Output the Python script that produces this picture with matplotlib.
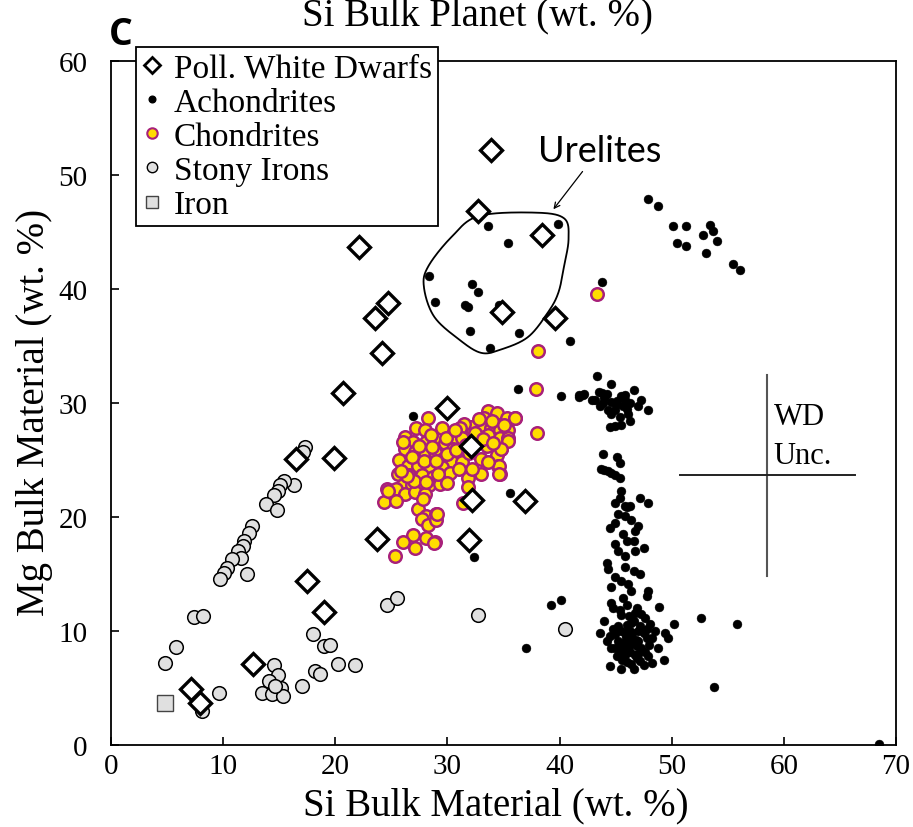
import numpy as np
import matplotlib
matplotlib.use("Agg")
import matplotlib.pyplot as plt
from matplotlib.lines import Line2D

plt.rcParams['font.family'] = ['Liberation Serif', 'DejaVu Serif']
plt.rcParams['mathtext.fontset'] = 'stix'

# Polluted white dwarfs (Si, Mg wt. %)
wd_si = [33.9, 32.7, 22.1, 38.4, 24.7, 23.5, 34.9, 39.6, 24.2, 20.7, 30.0, 32.1,
         16.5, 19.9, 32.2, 36.9, 23.7, 31.9, 17.5, 19.0, 12.7, 7.1, 7.9]
wd_mg = [52.2, 46.8, 43.7, 44.7, 38.8, 37.5, 38.0, 37.5, 34.4, 30.9, 29.6, 26.2,
         25.1, 25.2, 21.5, 21.4, 18.1, 18.0, 14.4, 11.7, 7.1, 4.9, 3.7]

# Achondrites
ach_si = [
    # urelites
    33.6, 39.9, 35.4, 28.4, 32.2, 32.7, 28.9, 31.6, 31.8, 34.6, 32.0, 36.4, 33.8, 43.8, 40.9,
    # upper right group
    47.9, 48.8, 50.1, 51.3, 53.4, 53.7, 54.0, 52.8, 50.5, 51.3, 53.1, 55.5, 56.1,
    # scattered
    36.3, 40.1, 41.7, 42.1, 26.9, 35.6, 32.4, 39.2, 40.1, 37.0, 52.6, 55.8, 53.8, 50.2, 68.5,
    # group near Mg 30
    43.3, 44.6, 41.7, 42.2, 43.5, 43.2, 44.0, 43.9, 44.6, 45.5, 45.8, 46.6, 47.3, 47.0, 47.9,
    43.6, 44.3, 44.9, 45.7, 46.3, 44.6, 45.4, 46.1, 46.3, 45.5, 44.9, 44.5, 45.8, 42.9, 44.2,
    45.1, 46.0, 45.0, 43.8,
    # column
    43.9, 45.1, 45.4, 43.7, 44.0, 44.6, 44.9, 45.4, 44.3, 45.5, 45.4, 44.9, 45.8, 46.3, 47.2,
    47.9, 46.0, 45.2, 45.8, 44.9, 44.5, 46.4, 47.0, 46.7, 45.7, 46.0, 46.6, 44.9, 45.2, 45.8,
    46.7, 47.5, 44.2, 44.3, 45.8, 46.6, 47.2, 44.9, 45.5, 46.1, 46.4, 44.6, 47.9, 47.8, 45.7,
    44.6, 44.8, 48.9, 45.5, 46.7, 47.6, 44.0, 45.2, 43.6, 44.2, 46.4, 48.1, 49.4, 49.7, 44.9,
    45.8, 47.0, 48.2, 44.6, 45.5, 46.3, 47.3, 48.8, 49.3, 45.1, 46.0, 46.9, 47.9, 44.5, 45.5,
    46.6, 47.5, 48.2, 47.0, 46.1, 45.2, 47.8, 46.7, 45.8, 44.9,
    # dense blob near Mg 9
    45.5, 46.0, 46.5, 47.2, 45.8, 46.3, 46.9, 47.5, 45.3, 46.6, 47.3, 46.2, 45.9, 46.8, 47.6,
    45.6, 46.4, 47.2, 44.8, 45.4, 46.0, 46.9, 48.5, 48.0, 44.5, 47.8, 46.5, 45.9, 47.0, 46.3,
]
ach_mg = [
    45.5, 45.7, 44.0, 41.1, 40.4, 39.7, 38.9, 38.6, 38.4, 38.6, 36.3, 36.1, 34.8, 40.6, 35.4,
    47.9, 47.3, 45.5, 45.5, 45.6, 45.1, 44.2, 44.7, 44.0, 43.8, 43.2, 42.2, 41.7,
    31.2, 30.6, 30.5, 30.7, 28.9, 22.1, 16.5, 12.3, 12.7, 8.5, 11.1, 10.6, 5.1, 10.6, 0.1,
    32.4, 31.7, 30.7, 30.8, 31.0, 30.3, 30.4, 30.0, 30.1, 30.6, 30.7, 31.1, 30.3, 29.7, 29.4,
    29.7, 29.4, 29.4, 29.7, 30.0, 29.0, 28.8, 29.0, 28.4, 28.1, 28.0, 27.9, 30.3, 30.3, 30.8,
    30.2, 29.5, 29.8, 30.9,
    25.5, 25.3, 24.7, 24.2, 24.1, 23.9, 23.7, 23.4, 24.0, 22.3, 21.7, 21.2, 21.0, 21.0, 21.7,
    21.2, 20.9, 20.3, 20.1, 19.5, 19.0, 19.7, 19.2, 18.8, 18.5, 17.9, 17.9, 17.6, 17.0, 16.6,
    17.0, 17.3, 16.0, 15.4, 15.6, 15.3, 15.0, 14.7, 14.4, 14.1, 13.5, 13.9, 13.5, 13.1, 12.9,
    12.5, 12.0, 12.1, 11.4, 11.6, 11.1, 10.9, 10.4, 9.8, 9.1, 10.7, 10.6, 9.8, 9.4, 9.7,
    9.8, 10.0, 9.4, 8.5, 8.2, 8.8, 8.5, 8.5, 7.5, 7.8, 7.3, 7.6, 7.8, 6.9, 6.7,
    6.7, 7.0, 7.2, 9.1, 9.4, 9.1, 9.4, 7.9, 7.9, 8.5,
    10.0, 10.5, 9.8, 10.4, 9.0, 8.2, 8.7, 9.8, 8.8, 10.9, 11.5, 11.3, 9.5, 9.2, 8.2,
    7.5, 7.1, 7.4, 10.2, 11.8, 12.3, 12.0, 10.0, 8.8, 9.6, 10.2, 9.3, 8.5, 8.0, 10.0,
]

# Chondrites
ch_si = [
    33.6, 34.4, 35.3, 36.0, 33.3, 33.0, 33.9, 34.7, 35.4, 32.1, 31.5, 31.1, 30.5, 31.3, 33.6,
    34.7, 35.4, 32.7, 33.5, 34.8, 34.4, 33.0, 34.5, 34.7, 33.0, 31.8, 31.8, 31.4,
    28.3, 27.2, 26.2, 26.9, 28.0, 28.1, 29.0, 29.8, 30.5, 26.2, 27.1, 28.0, 28.9, 29.6, 30.4,
    31.3, 25.7, 26.5, 27.4, 28.4, 29.5, 30.2, 25.6, 26.6, 27.7, 28.7, 26.0, 26.8, 27.5, 28.4,
    29.3, 24.6, 25.4, 26.2, 27.1, 28.0, 24.3, 25.4, 27.4, 28.1, 29.0, 27.7, 28.3, 29.0, 26.9,
    28.1, 28.9, 26.0, 27.1, 25.3,
    43.3, 38.1, 37.9, 38.0, 34.6, 34.6, 36.0, 35.4, 34.8, 29.1, 28.8, 24.7,
    27.5, 28.5, 29.5, 30.0, 29.2, 27.9, 26.8, 27.0, 28.6, 29.9, 30.8, 31.9, 32.5, 33.2, 34.0,
    35.0, 32.8, 31.7, 30.7, 29.0, 28.1, 26.4, 25.9, 27.8, 30.0, 33.6, 34.1, 32.2, 31.0, 26.0,
]
ch_mg = [
    29.3, 29.1, 28.7, 28.7, 28.7, 28.1, 27.8, 27.6, 27.6, 27.9, 28.2, 27.8, 26.9, 26.9, 27.2,
    26.9, 26.9, 26.6, 26.2, 26.0, 25.4, 25.1, 24.5, 23.8, 23.8, 23.4, 22.6, 21.2,
    28.7, 27.8, 27.0, 26.6, 27.6, 26.6, 26.9, 26.5, 26.0, 26.0, 25.7, 25.7, 25.7, 25.1, 24.8,
    24.8, 25.0, 24.5, 24.5, 24.4, 24.4, 23.9, 23.8, 23.7, 23.7, 23.5, 22.8, 22.8, 22.7, 22.8,
    22.9, 22.5, 22.5, 22.0, 22.2, 22.0, 21.3, 21.4, 20.7, 20.1, 20.3, 19.8, 19.3, 19.7, 18.4,
    18.2, 17.8, 17.8, 17.3, 16.6,
    39.6, 34.6, 31.2, 27.4, 24.5, 23.8, 28.7, 26.7, 26.0, 20.3, 17.7, 22.3,
    26.2, 27.2, 27.8, 25.5, 23.8, 24.9, 25.3, 23.2, 26.1, 26.9, 25.9, 25.6, 27.4, 26.8, 28.4,
    28.1, 28.6, 26.3, 27.6, 24.9, 23.1, 23.6, 24.0, 21.6, 23.0, 24.8, 26.5, 24.2, 24.2, 26.6,
]

# Stony irons
si_si = [17.3, 17.1, 16.3, 15.4, 15.1, 14.9, 14.5, 13.8, 14.8, 12.6, 12.3, 11.9, 11.8, 11.3,
         11.6, 10.8, 10.3, 10.1, 9.7, 12.1, 7.4, 8.2, 5.8, 4.8, 9.6, 8.1, 14.5, 14.9, 14.1,
         13.5, 14.4, 15.2, 15.3, 14.6, 17.0, 18.0, 19.0, 19.5, 18.2, 18.6, 20.2, 21.8, 24.6,
         25.5, 32.7, 40.5]
si_mg = [26.1, 25.7, 22.8, 23.2, 22.8, 22.3, 21.9, 21.1, 20.6, 19.2, 18.6, 17.9, 17.5, 17.0,
         16.4, 16.3, 15.5, 15.1, 14.6, 15.0, 11.2, 11.3, 8.6, 7.2, 4.6, 3.0, 7.0, 6.1, 5.6,
         4.6, 4.5, 5.0, 4.3, 5.2, 5.2, 9.7, 8.7, 8.8, 6.5, 6.2, 7.1, 7.0, 12.3,
         12.9, 11.4, 10.2]

# Iron
fe_si = [4.8]
fe_mg = [3.7]

# outline drawn around the urelites
ure_si = [32.8, 37.8, 40.4, 40.8, 40.4, 39.9, 39.0, 37.2, 34.8, 33.0, 31.0, 28.8, 27.9, 28.3, 30.4]
ure_mg = [46.4, 46.7, 46.2, 44.4, 42.0, 39.7, 38.0, 35.8, 34.7, 34.4, 35.6, 37.6, 40.2, 42.0, 44.6]


def closed_curve(xs, ys, n=30):
    # Catmull-Rom through the outline points, closed
    p = np.column_stack([xs, ys])
    out = []
    m = len(p)
    for i in range(m):
        p0, p1, p2, p3 = p[i - 1], p[i], p[(i + 1) % m], p[(i + 2) % m]
        for t in np.linspace(0, 1, n, endpoint=False):
            t2, t3 = t * t, t * t * t
            out.append(0.5 * (2 * p1 + (-p0 + p2) * t + (2 * p0 - 5 * p1 + 4 * p2 - p3) * t2
                              + (-p0 + 3 * p1 - 3 * p2 + p3) * t3))
    out.append(out[0])
    out = np.array(out)
    return out[:, 0], out[:, 1]


fig = plt.figure(figsize=(9.13, 8.28), dpi=100)
ax = fig.add_axes([111 / 913, 1 - 746 / 828, 785 / 913, 684 / 828])

ax.plot(si_si, si_mg, 'o', ms=9.8, mfc='#e0e0e0', mec='black', mew=1.1, zorder=3)
ax.plot(fe_si, fe_mg, 's', ms=11, mfc='#e0e0e0', mec='#444444', mew=1.0, zorder=3)
ax.plot(ch_si, ch_mg, 'o', ms=9.0, mfc='#ffdd00', mec='#a8207a', mew=1.8, zorder=4)
ax.plot(ach_si, ach_mg, 'o', ms=6.4, mfc='black', mec='black', mew=0.3, zorder=5)
ax.plot(wd_si, wd_mg, 'D', ms=10.8, mfc='white', mec='black', mew=2.4, zorder=6)

cx, cy = closed_curve(ure_si, ure_mg)
ax.plot(cx, cy, color='black', lw=1.3, zorder=5)
ax.annotate('', xy=(39.3, 46.8), xytext=(42.2, 50.5),
            arrowprops=dict(arrowstyle='->', color='black', lw=0.9))
ax.text(43.6, 51.2, 'Urelites', family=['Lato', 'DejaVu Sans'], fontsize=26,
        ha='center', va='baseline')

# WD uncertainty cross
ax.plot([58.5, 58.5], [14.8, 32.5], color='#555555', lw=1.5)
ax.plot([50.7, 66.3], [23.7, 23.7], color='#222222', lw=1.4)
ax.text(59.1, 28.2, 'WD', fontsize=22, ha='left', va='baseline')
ax.text(59.1, 24.7, 'Unc.', fontsize=22, ha='left', va='baseline')

ax.set_xlim(0, 70)
ax.set_ylim(0, 60)
ax.set_xticks(range(0, 71, 10))
ax.set_yticks(range(0, 61, 10))
ax.tick_params(direction='in', length=6, width=1.2, labelsize=21, top=False, right=False)
ax.tick_params(axis='y', pad=17)
ax.tick_params(axis='x', pad=6)
for s in ax.spines.values():
    s.set_linewidth(1.3)

fig.text(496 / 913, 1 - 806 / 828, 'Si Bulk Material (wt. %)', fontsize=28, ha='center', va='center')
fig.text(35 / 913, 1 - 412 / 828, 'Mg Bulk Material (wt. %)', fontsize=28, ha='center', va='center',
         rotation=90)
fig.text(478 / 913, 1 - 25 / 828, 'Si Bulk Planet (wt. %)', fontsize=28, ha='center', va='baseline')
fig.text(109 / 913, 1 - 45 / 828, 'C', family=['Open Sans', 'DejaVu Sans'], fontsize=27,
         fontweight='bold', ha='left', va='baseline')

handles = [
    Line2D([], [], ls='none', marker='D', ms=8, mfc='white', mec='black', mew=2.0),
    Line2D([], [], ls='none', marker='o', ms=4.8, mfc='black', mec='black'),
    Line2D([], [], ls='none', marker='o', ms=7.5, mfc='#ffdd00', mec='#a8207a', mew=1.5),
    Line2D([], [], ls='none', marker='o', ms=7.5, mfc='#e0e0e0', mec='black', mew=1.0),
    Line2D([], [], ls='none', marker='s', ms=8.5, mfc='#e0e0e0', mec='#444444', mew=1.0),
]
labels = ['Poll. White Dwarfs', 'Achondrites', 'Chondrites', 'Stony Irons', 'Iron']
leg = fig.legend(handles, labels, loc='upper left', bbox_to_anchor=(136 / 913, 1 - 48 / 828),
                 borderaxespad=0, fontsize=24, frameon=True, fancybox=False, framealpha=1,
                 edgecolor='black', handlelength=0.6, handletextpad=0.35, labelspacing=0.11,
                 borderpad=0.18)
leg.get_frame().set_linewidth(1.3)

fig.savefig('out.png', dpi=100)
